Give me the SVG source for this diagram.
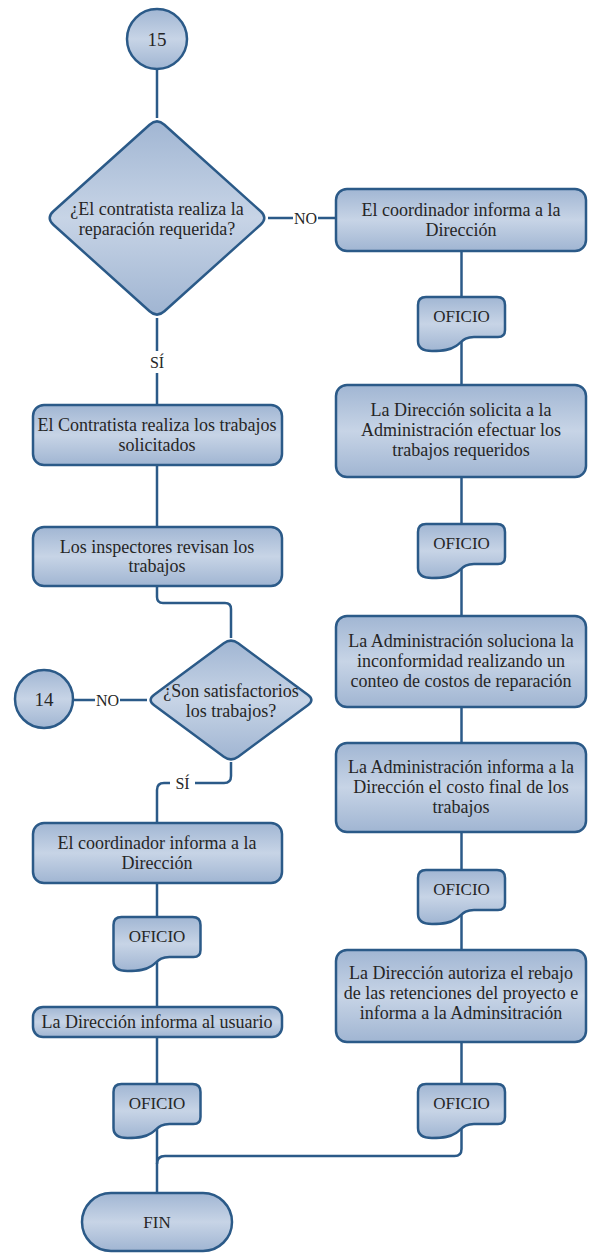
<svg xmlns="http://www.w3.org/2000/svg" width="589" height="1254" viewBox="0 0 589 1254" font-family="Liberation Serif">
  <defs>
    <linearGradient id="fillGrad" x1="0" y1="0" x2="0" y2="1">
      <stop offset="0" stop-color="#a1b6d3"/>
      <stop offset="0.5" stop-color="#c7d4e6"/>
      <stop offset="1" stop-color="#a0b5d2"/>
    </linearGradient>
    <!-- OFICIO document shape, 87 x 54, origin at top-left -->
    <path id="doc" d="M0,8 Q0,0 8,0 H79 Q87,0 87,8 V33 Q87,40 80,40 H56 C46,40 44,45 38,49 C32,53 26,54 14,54 Q0,54 0,44 Z"/>
  </defs>
  <style>
    .shape { fill: url(#fillGrad); stroke: #2b5a88; stroke-width: 2.5; stroke-linejoin: round; }
    .conn { fill: none; stroke: #2b5a88; stroke-width: 2.5; }
  </style>
  <rect width="589" height="1254" fill="#ffffff"/>

  <g id="connectors">
    <path class="conn" d="M157,69 V118"/>
    <path class="conn" d="M268,218 H293 M318,218 H336"/>
    <path class="conn" d="M157,318 V351 M157,373 V405"/>
    <path class="conn" d="M157,465 V527"/>
    <path class="conn" d="M157,586 V597 Q157,603 163,603 H225 Q231,603 231,609 V638"/>
    <path class="conn" d="M74,700 H95 M120,700 H147"/>
    <path class="conn" d="M231,762 V776 Q231,783 224,783 H195 M170,783 H164 Q157,783 157,790 V823"/>
    <path class="conn" d="M157,883 V1007"/>
    <path class="conn" d="M157,1037 V1193"/>
    <path class="conn" d="M461.5,251 V385"/>
    <path class="conn" d="M461.5,477 V616"/>
    <path class="conn" d="M461.5,707 V743"/>
    <path class="conn" d="M461.5,832 V950"/>
    <path class="conn" d="M461.5,1042 V1149 Q461.5,1156 454.5,1156 H165 Q157,1156 157,1164"/>
    <g font-family="Liberation Serif" font-size="16" fill="#262626" text-anchor="middle">
      <text font-family="Liberation Serif" x="305.5" y="223.5">NO</text>
      <text font-family="Liberation Serif" x="157" y="367.5">SÍ</text>
      <text font-family="Liberation Serif" x="107.5" y="705.5">NO</text>
      <text font-family="Liberation Serif" x="182.5" y="788.5">SÍ</text>
    </g>
  </g>

  <g font-size="18" fill="#262626" text-anchor="middle">
  <g id="start-15">
    <circle class="shape" cx="157" cy="39" r="30"/>
    <text font-family="Liberation Serif" font-size="19" x="157" y="45.5">15</text>
  </g>

  <g id="decision-reparacion">
    <path class="shape" d="M149.6,124.7 Q157,118 164.4,124.7 L260.6,211.3 Q268,218 260.6,224.7 L164.4,311.3 Q157,318 149.6,311.3 L53.4,224.7 Q46,218 53.4,211.3 Z"/>
    <text font-family="Liberation Serif" x="157" y="215">¿El contratista realiza la</text>
    <text font-family="Liberation Serif" x="157" y="235">reparación requerida?</text>
  </g>

  <g id="coordinador-informa-1">
    <rect class="shape" x="336" y="189" width="250" height="62" rx="11"/>
    <text font-family="Liberation Serif" x="461" y="216">El coordinador informa a la</text>
    <text font-family="Liberation Serif" x="461" y="236">Dirección</text>
  </g>

  <g id="oficio-r1">
    <use href="#doc" class="shape" x="418" y="297"/>
    <text font-family="Liberation Serif" font-size="17" x="461.5" y="322">OFICIO</text>
  </g>

  <g id="direccion-solicita">
    <rect class="shape" x="336" y="385" width="250" height="92" rx="11"/>
    <text font-family="Liberation Serif" x="461" y="416">La Dirección solicita a la</text>
    <text font-family="Liberation Serif" x="461" y="436">Administración efectuar los</text>
    <text font-family="Liberation Serif" x="461" y="456">trabajos requeridos</text>
  </g>

  <g id="oficio-r2">
    <use href="#doc" class="shape" x="418" y="524"/>
    <text font-family="Liberation Serif" font-size="17" x="461.5" y="549">OFICIO</text>
  </g>

  <g id="administracion-soluciona">
    <rect class="shape" x="336" y="616" width="250" height="91" rx="11"/>
    <text font-family="Liberation Serif" x="461" y="647">La Administración soluciona la</text>
    <text font-family="Liberation Serif" x="461" y="667">inconformidad realizando un</text>
    <text font-family="Liberation Serif" x="461" y="687">conteo de costos de reparación</text>
  </g>

  <g id="administracion-informa">
    <rect class="shape" x="336" y="743" width="250" height="89" rx="11"/>
    <text font-family="Liberation Serif" x="461" y="773">La Administración informa a la</text>
    <text font-family="Liberation Serif" x="461" y="793">Dirección el costo final de los</text>
    <text font-family="Liberation Serif" x="461" y="813">trabajos</text>
  </g>

  <g id="oficio-r3">
    <use href="#doc" class="shape" x="418" y="870"/>
    <text font-family="Liberation Serif" font-size="17" x="461.5" y="895">OFICIO</text>
  </g>

  <g id="direccion-autoriza">
    <rect class="shape" x="336" y="950" width="250" height="92" rx="11"/>
    <text font-family="Liberation Serif" x="461" y="979">La Dirección autoriza el rebajo</text>
    <text font-family="Liberation Serif" x="461" y="999">de las retenciones del proyecto e</text>
    <text font-family="Liberation Serif" x="461" y="1019">informa a la Adminsitración</text>
  </g>

  <g id="oficio-r4">
    <use href="#doc" class="shape" x="418" y="1084"/>
    <text font-family="Liberation Serif" font-size="17" x="461.5" y="1109">OFICIO</text>
  </g>

  <g id="contratista-realiza">
    <rect class="shape" x="33" y="405" width="249" height="60" rx="11"/>
    <text font-family="Liberation Serif" x="157" y="431">El Contratista realiza los trabajos</text>
    <text font-family="Liberation Serif" x="157" y="451">solicitados</text>
  </g>

  <g id="inspectores-revisan">
    <rect class="shape" x="33" y="527" width="249" height="59" rx="11"/>
    <text font-family="Liberation Serif" x="157" y="553">Los inspectores revisan los</text>
    <text font-family="Liberation Serif" x="157" y="572">trabajos</text>
  </g>

  <g id="connector-14">
    <circle class="shape" cx="44" cy="699" r="29"/>
    <text font-family="Liberation Serif" font-size="19" x="44" y="705.5">14</text>
  </g>

  <g id="decision-satisfactorios">
    <path class="shape" d="M223.8,643.3 Q231,638 238.2,643.3 L307.8,694.7 Q315,700 307.8,705.3 L238.2,756.7 Q231,762 223.8,756.7 L154.2,705.3 Q147,700 154.2,694.7 Z"/>
    <text font-family="Liberation Serif" x="231" y="697">¿Son satisfactorios</text>
    <text font-family="Liberation Serif" x="231" y="717">los trabajos?</text>
  </g>

  <g id="coordinador-informa-2">
    <rect class="shape" x="33" y="823" width="249" height="60" rx="11"/>
    <text font-family="Liberation Serif" x="157" y="849">El coordinador informa a la</text>
    <text font-family="Liberation Serif" x="157" y="869">Dirección</text>
  </g>

  <g id="oficio-l1">
    <use href="#doc" class="shape" x="113.5" y="917"/>
    <text font-family="Liberation Serif" font-size="17" x="157" y="942">OFICIO</text>
  </g>

  <g id="direccion-informa-usuario">
    <rect class="shape" x="33" y="1007" width="249" height="30" rx="10"/>
    <text font-family="Liberation Serif" x="157" y="1028">La Dirección informa al usuario</text>
  </g>

  <g id="oficio-l2">
    <use href="#doc" class="shape" x="113.5" y="1084"/>
    <text font-family="Liberation Serif" font-size="17" x="157" y="1109">OFICIO</text>
  </g>

  <g id="fin">
    <rect class="shape" x="82" y="1193" width="150" height="58" rx="29"/>
    <text font-family="Liberation Serif" font-size="17" x="157" y="1228">FIN</text>
  </g>
  </g>
</svg>
